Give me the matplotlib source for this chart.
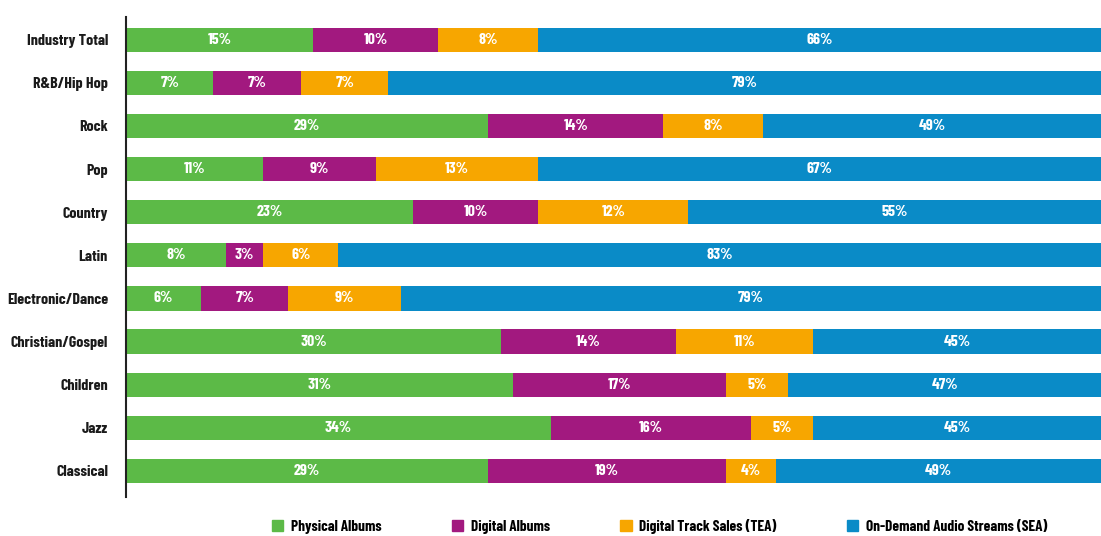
import numpy as np
from matplotlib import pyplot as plt
from matplotlib.patches import Patch

genres = ['Industry Total', 'R&B/Hip Hop', 'Rock', 'Pop', 'Country', 'Latin',
          'Electronic/Dance', 'Christian/Gospel', 'Children', 'Jazz', 'Classical']
physical = [15, 7, 29, 11, 23, 8, 6, 30, 31, 34, 29]
digital_albums = [10, 7, 14, 9, 10, 3, 7, 14, 17, 16, 19]
track_sales = [8, 7, 8, 13, 12, 6, 9, 11, 5, 5, 4]
streams = [66, 79, 49, 67, 55, 83, 79, 45, 47, 45, 49]
series_names = ['Physical Albums', 'Digital Albums', 'Digital Track Sales (TEA)',
                'On-Demand Audio Streams (SEA)']

colors = ['#5cba47', '#a2197f', '#f7a600', '#0a8bc7']
font = ['Barlow Condensed', 'DejaVu Sans']
xmax = 78

fig = plt.figure(figsize=(11.01, 5.36), dpi=100)
ax = fig.add_axes([0.1144, 0.073, 0.8856, 0.895])

y = np.arange(len(genres))
left = np.zeros(len(genres))
for vals, col in zip([physical, digital_albums, track_sales, streams], colors):
    vals = np.array(vals)
    ax.barh(y, vals, left=left, height=0.56, color=col, edgecolor='none')
    for yi, l, v in zip(y, left, vals):
        # label centred on the visible part of the segment
        cx = (l + min(l + v, xmax)) / 2
        ax.text(cx, yi, f'{v}%', ha='center', va='center', color='white',
                fontsize=11.5, fontweight='bold', family=font)
    left += vals

ax.set_xlim(0, xmax)
ax.set_ylim(10.6, -0.52)
ax.set_yticks(y)
ax.set_yticklabels(genres, fontsize=11.5, fontweight='bold', family=font, color='#1a1a1a')
ax.tick_params(axis='y', length=0, pad=13)
ax.set_xticks([])
for s in ['top', 'right', 'bottom']:
    ax.spines[s].set_visible(False)
ax.spines['left'].set_linewidth(1.5)
ax.spines['left'].set_color('#222222')

handles = [Patch(color=c) for c in colors]
fig.legend(handles, series_names, loc='center', bbox_to_anchor=(0.599, 0.018),
           ncol=4, frameon=False, handlelength=0.75, handleheight=0.75,
           handletextpad=0.5, columnspacing=4.6,
           prop={'family': font, 'weight': 'bold', 'size': 11})

fig.savefig('out.png', dpi=100)
